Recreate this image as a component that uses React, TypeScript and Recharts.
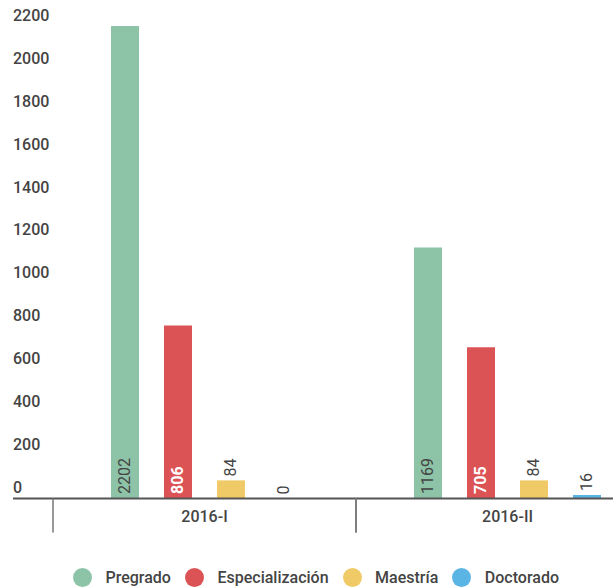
import React from 'react';
import { BarChart, Bar, XAxis, YAxis, Legend, LabelList, Rectangle } from 'recharts';

const categories = ['2016-I', '2016-II'];
const pregrado = [2202, 1169];
const especializacion = [806, 705];
const maestria = [84, 84];
const doctorado = [0, 16];
const yTicks = [0, 200, 400, 600, 800, 1000, 1200, 1400, 1600, 1800, 2000, 2200];

const seriesNames = ['Pregrado', 'Especialización', 'Maestría', 'Doctorado'];
const colors = ['#8DC3A7', '#DC5356', '#F0CA67', '#5BB5E4'];

const data = categories.map((c, i) => ({
  cat: c,
  pregrado: pregrado[i],
  especializacion: especializacion[i],
  maestria: maestria[i],
  doctorado: doctorado[i],
}));

const TEXT = '#444444';
const FONT = 'Roboto, "Noto Sans", sans-serif';

const YTick = (props: any) => {
  const { y, payload } = props;
  return (
    <text x={13} y={y - 11} textAnchor="start" dominantBaseline="central" fill={TEXT} fontSize={16} fontWeight={500} fontFamily={FONT}>
      {payload.value}
    </text>
  );
};

const XTick = (props: any) => {
  const { x, y, payload } = props;
  const half = 151.5;
  return (
    <g>
      <line x1={x - half} x2={x - half} y1={y} y2={y + 34} stroke="#777" strokeWidth={1.5} />
      <line x1={x + half} x2={x + half} y1={y} y2={y + 34} stroke="#777" strokeWidth={1.5} />
      <text x={x} y={y + 18} textAnchor="middle" dominantBaseline="central" fill={TEXT} fontSize={16} fontWeight={500} fontFamily={FONT}>
        {payload.value}
      </text>
    </g>
  );
};

const makeLabel = (inside: boolean, color: string, weight: number) => (props: any) => {
  const { x, y, width, height, value } = props;
  const cx = Number(x) + Number(width) / 2;
  const base = inside ? Number(y) + Number(height) - 4.5 : Number(y) - 4;
  return (
    <text
      x={cx}
      y={base}
      transform={`rotate(-90 ${cx} ${base})`}
      textAnchor="start"
      dominantBaseline="central"
      fill={color}
      fontSize={16}
      fontWeight={weight}
      fontFamily={FONT}
    >
      {value}
    </text>
  );
};

const ThinSafeShape = (props: any) => {
  if (Math.abs(Number(props.height)) < 0.5) return <g />;
  return <Rectangle {...props} />;
};

const LegendContent = (props: any) => {
  const { payload } = props;
  const items = [...(payload || [])].sort(
    (a: any, b: any) => seriesNames.indexOf(a.value) - seriesNames.indexOf(b.value)
  );
  return (
    <div style={{ display: 'flex', alignItems: 'center', fontFamily: FONT, fontSize: 16, fontWeight: 500, color: TEXT, height: 20 }}>
      {items.map((p: any, i: number) => (
        <div key={i} style={{ display: 'flex', alignItems: 'center', marginRight: 14 }}>
          <span style={{ display: 'inline-block', width: 19, height: 19, borderRadius: '50%', background: p.color, marginRight: 13.5 }} />
          <span style={{ whiteSpace: 'nowrap' }}>{p.value}</span>
        </div>
      ))}
    </div>
  );
};

export default function App() {
  return (
    <div style={{ position: 'fixed', left: 0, top: 0, width: 613, height: 588, overflow: 'hidden', background: '#fff' }}>
      <BarChart
        width={660}
        height={588}
        data={data}
        margin={{ top: 26, right: 1, left: 12, bottom: 49.6 }}
        barSize={28}
        barGap={25}
        style={{ fontFamily: FONT }}
      >
        <XAxis
          dataKey="cat"
          padding={{ left: 40, right: 0 }}
          height={40}
          axisLine={{ stroke: '#555', strokeWidth: 2 }}
          tickLine={false}
          tickSize={0}
          tickMargin={0}
          interval={0}
          tick={<XTick />}
        />
        <YAxis width={1} domain={[0, 2200]} ticks={yTicks} axisLine={false} tickLine={false} tick={<YTick />} interval={0} />
        <Legend
          layout="horizontal"
          verticalAlign="middle"
          align="center"
          wrapperStyle={{ left: 73, top: 567, width: 540 }}
          content={<LegendContent />}
        />
        <Bar dataKey="pregrado" name={seriesNames[0]} fill={colors[0]} isAnimationActive={false}>
          <LabelList dataKey="pregrado" content={makeLabel(true, TEXT, 400)} />
        </Bar>
        <Bar dataKey="especializacion" name={seriesNames[1]} fill={colors[1]} isAnimationActive={false}>
          <LabelList dataKey="especializacion" content={makeLabel(true, '#ffffff', 700)} />
        </Bar>
        <Bar dataKey="maestria" name={seriesNames[2]} fill={colors[2]} isAnimationActive={false}>
          <LabelList dataKey="maestria" content={makeLabel(false, TEXT, 400)} />
        </Bar>
        <Bar dataKey="doctorado" name={seriesNames[3]} fill={colors[3]} minPointSize={0.01} shape={<ThinSafeShape />} isAnimationActive={false}>
          <LabelList dataKey="doctorado" content={makeLabel(false, TEXT, 400)} />
        </Bar>
      </BarChart>
    </div>
  );
}
